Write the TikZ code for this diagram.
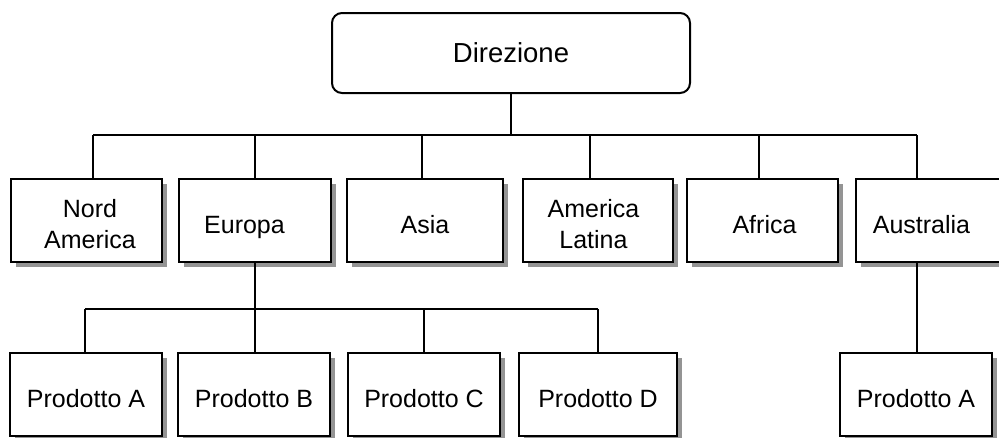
\documentclass[tikz,border=0pt]{standalone}
\usepackage{fontspec}
\setmainfont{Liberation Sans}
\usetikzlibrary{shadows}
\begin{document}
\begin{tikzpicture}[x=1pt,y=-1pt,line width=2pt,
  head/.style={draw,fill=white,rounded corners=10pt,minimum width=358pt,minimum height=80pt,
    inner sep=0pt,font=\fontsize{27.5}{33}\selectfont},
  unit/.style={draw,fill=white,minimum height=83pt,inner sep=0pt,
    drop shadow={shadow xshift=5pt,shadow yshift=-5pt,fill=black!42,opacity=1}},
  caption/.style={align=center,inner sep=0pt,yshift=-4pt,
    font=\fontsize{25}{31}\selectfont},
  link/.style={draw,line width=2pt}]
\useasboundingbox (0,0) rectangle (999,437);

% top level
\node[head] (dir) at (511,53) {Direzione};

% regions
\node[unit,minimum width=151pt,label={[caption,xshift=3.5pt,name=tna]center:Nord\\America}] (na) at (86.5,220.5) {};
\node[unit,minimum width=152pt,label={[caption,xshift=-10.5pt,yshift=-2.6pt,name=teu]center:Europa}] (eu) at (255,220.5) {};
\node[unit,minimum width=156pt,label={[caption,name=tas]center:Asia}] (as) at (425,220.5) {};
\node[unit,minimum width=150pt,label={[caption,xshift=-4.5pt,name=tal]center:America\\Latina}] (al) at (598,220.5) {};
\node[unit,minimum width=151pt,label={[caption,xshift=2pt,name=taf]center:Africa}] (af) at (762.5,220.5) {};
\node[unit,minimum width=149pt,label={[caption,xshift=-9pt,name=tau]center:Australia}] (au) at (930.5,220.5) {};

% products
\node[unit,minimum width=152pt,label={[caption,name=tpa]center:Prodotto A}] (pa) at (86,394.5) {};
\node[unit,minimum width=152pt,label={[caption,name=tpb]center:Prodotto B}] (pb) at (254,394.5) {};
\node[unit,minimum width=152pt,label={[caption,name=tpc]center:Prodotto C}] (pc) at (424,394.5) {};
\node[unit,minimum width=158pt,label={[caption,name=tpd]center:Prodotto D}] (pd) at (598,394.5) {};
\node[unit,minimum width=152pt,label={[caption,name=tpz]center:Prodotto A}] (pz) at (916,394.5) {};

% junctions on the first bus
\coordinate (jna) at (93,135);
\coordinate (jeu) at (255,135);
\coordinate (jas) at (422,135);
\coordinate (jal) at (590,135);
\coordinate (jaf) at (759,135);
\coordinate (jau) at (917,135);

% junctions on the second bus
\coordinate (kpa) at (85,309);
\coordinate (kpb) at (255,309);
\coordinate (kpc) at (424,309);
\coordinate (kpd) at (598,309);

% connectors
\draw[link] (dir.south) -- (dir.south |- jna);
\draw[link] (jna) -- (jau);
\foreach \j/\n in {jna/na,jeu/eu,jas/as,jal/al,jaf/af,jau/au}
  \draw[link] (\j) -- (\j |- \n.north);

\draw[link] (eu.south) -- (eu.south |- kpa);
\draw[link] (kpa) -- (kpd);
\foreach \k/\n in {kpa/pa,kpb/pb,kpc/pc,kpd/pd}
  \draw[link] (\k) -- (\k |- \n.north);

\draw[link] (jau |- au.south) -- (jau |- pz.north);
\end{tikzpicture}
\end{document}
